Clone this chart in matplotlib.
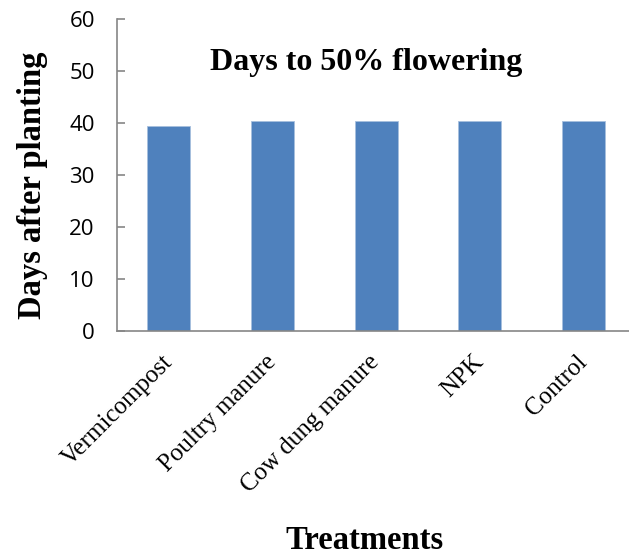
import matplotlib.pyplot as plt
import matplotlib.transforms as mtransforms
import numpy as np

# Days to 50% flowering per treatment
treatments = ["Vermicompost", "Poultry manure", "Cow dung manure", "NPK", "Control"]
days = [39.4, 40.3, 40.3, 40.3, 40.3]
y_ticks = [0, 10, 20, 30, 40, 50, 60]

BAR_COLOR = "#4f81bd"
AXIS_COLOR = "#868686"
SERIF = "Liberation Serif"
SANS = "Open Sans"

fig = plt.figure(figsize=(6.29, 5.56), dpi=100)
ax = fig.add_axes([0.1860, 0.4047, 0.8243, 0.5612])

x = np.arange(len(treatments))
ax.bar(x, days, width=0.415, color=BAR_COLOR, edgecolor="#a7bfde", linewidth=0.6)

ax.set_xlim(-0.5, len(treatments) - 0.5)
ax.set_ylim(0, 60)
ax.set_yticks(y_ticks)
ax.set_yticklabels([str(t) for t in y_ticks], fontfamily=SANS, fontsize=16)
ax.set_xticks(x)
ax.set_xticklabels(treatments, rotation=45, ha="right", va="center",
                   rotation_mode="anchor", fontfamily=SERIF, fontsize=18)

# nudge category labels slightly right of the bar centres
shift = mtransforms.ScaledTranslation(5 / 100, 0, fig.dpi_scale_trans)
for lbl in ax.get_xticklabels():
    lbl.set_transform(lbl.get_transform() + shift)

for side in ("top", "right"):
    ax.spines[side].set_visible(False)
for side in ("left", "bottom"):
    ax.spines[side].set_color(AXIS_COLOR)
    ax.spines[side].set_linewidth(1.2)
ax.tick_params(axis="y", direction="in", length=6, color=AXIS_COLOR, width=1.2, pad=16)
ax.tick_params(axis="x", length=0, pad=20)

ax.text(0.48, 0.862, "Days to 50% flowering", transform=ax.transAxes,
        ha="center", va="center", fontfamily=SERIF, fontweight="bold", fontsize=23)

fig.text(0.051, 0.667, "Days after planting", rotation=90, ha="center", va="center",
         fontfamily=SERIF, fontweight="bold", fontsize=23.5)
fig.text(0.579, 0.012, "Treatments", ha="center", va="baseline",
         fontfamily=SERIF, fontweight="bold", fontsize=23.5)

fig.savefig("out.png", dpi=100)
